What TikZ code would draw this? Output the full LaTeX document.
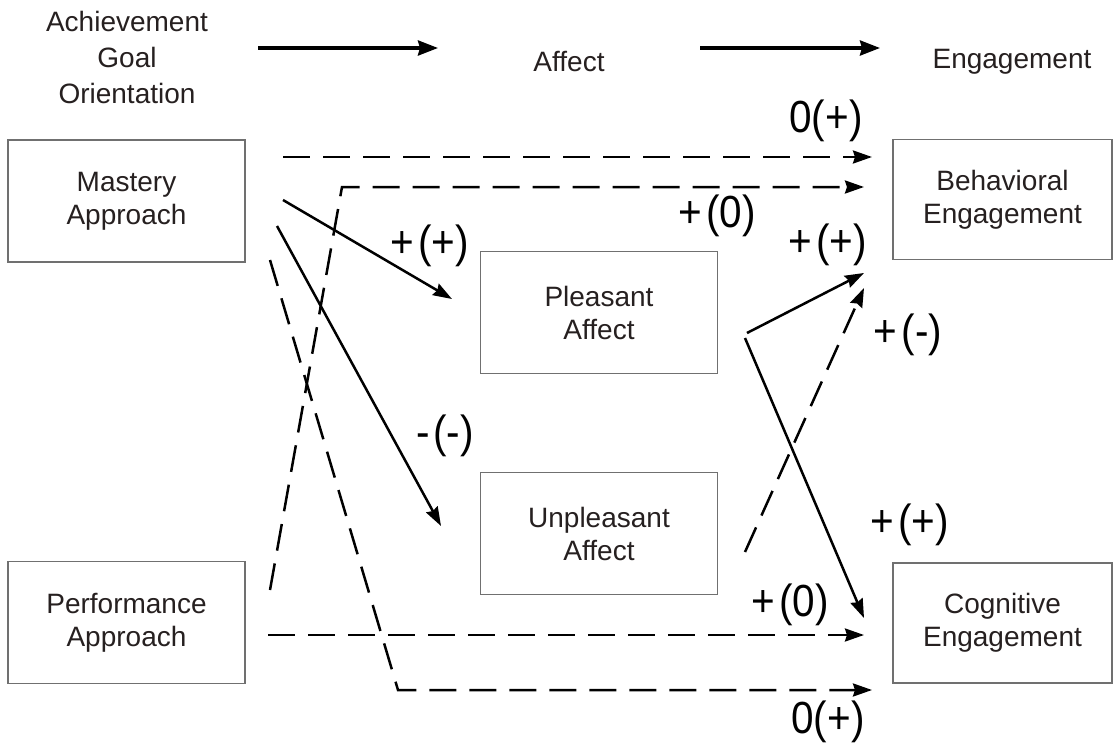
\documentclass[tikz,border=0pt]{standalone}
\usepackage{fontspec}
\setmainfont{Liberation Sans}
\newfontfamily\labfont[FakeStretch=0.9]{Liberation Sans}
\usetikzlibrary{arrows.meta}
\definecolor{boxline}{HTML}{707070}
\definecolor{txt}{HTML}{262020}
\newcommand{\lbl}[2]{#1\kern4pt(#2)}
\begin{document}
\begin{tikzpicture}[x=1pt,y=-1pt,
  box/.style={draw=boxline,line width=1.5pt,minimum width=237pt,minimum height=122pt,inner sep=0pt,align=center,font=\fontsize{28}{33}\selectfont,text=txt},
  ebox/.style={box,minimum width=219pt,minimum height=120pt},
  head/.style={align=center,font=\fontsize{28}{36}\selectfont,text=txt},
  lab/.style={font=\labfont\fontsize{45}{48}\selectfont,inner sep=0pt},
  conn/.style={line width=2.5pt,-{Stealth[length=19pt,width=13pt,inset=2pt]}},
  dconn/.style={conn,dash pattern=on 27pt off 13pt},
  harr/.style={line width=3.5pt,-{Stealth[length=20pt,width=15pt,inset=2pt]}}]
\useasboundingbox (0,0) rectangle (1120,744);
\fill[white] (0,0) rectangle (1120,744);
% headers
\node[head] (hgoal) at (127,57) {Achievement\\Goal\\Orientation};
\node[head] (haff) at (569,62) {Affect};
\node[head] (heng) at (1012,62) {Engagement};
\coordinate (a1s) at (258,48); \coordinate (a1e) at (438,48);
\coordinate (a2s) at (700,48); \coordinate (a2e) at (880,48);
\draw[harr] (a1s) -- (a1e);
\draw[harr] (a2s) -- (a2e);
% boxes
\node[box] (mast) at (126.5,201) {Mastery\\Approach};
\node[box] (perf) at (126.5,622.5) {Performance\\Approach};
\node[box] (pleas) at (599,312.5) {Pleasant\\Affect};
\node[box] (unpl) at (599,533.5) {Unpleasant\\Affect};
\node[ebox] (beh) at (1002.5,199.5) {Behavioral\\Engagement};
\node[ebox] (cog) at (1002.5,623) {Cognitive\\Engagement};
% connector end points
\coordinate (m1) at (283,157);  \coordinate (b1) at (872,157);
\coordinate (p1) at (270,590);  \coordinate (k1) at (342,187); \coordinate (b2) at (864,187);
\coordinate (m2) at (283,200);  \coordinate (pl1) at (452,299);
\coordinate (m3) at (277,226);  \coordinate (up1) at (441,526);
\coordinate (m4) at (270,260);  \coordinate (k2) at (398,690); \coordinate (c2) at (872,690);
\coordinate (p2) at (268,635);  \coordinate (c1) at (864,635);
\coordinate (pl2) at (747,333); \coordinate (b3) at (864,273);
\coordinate (up2) at (745,552); \coordinate (b4) at (864,288);
\coordinate (pl3) at (745,338); \coordinate (c3) at (864,618);
% connectors
\draw[dconn] (m1) -- (b1);
\draw[dconn] (p1) -- (k1) -- (b2);
\draw[conn] (m2) -- (pl1);
\draw[conn] (m3) -- (up1);
\draw[dconn] (m4) -- (k2) -- (c2);
\draw[dconn] (p2) -- (c1);
\draw[conn] (pl2) -- (b3);
\draw[dconn] (up2) -- (b4);
\draw[conn] (pl3) -- (c3);
% labels
\node[lab] (l1) at (826,121) {0(+)};
\node[lab] (l2) at (717,216) {\lbl{+}{0}};
\node[lab] (l3) at (430,246) {\lbl{+}{+}};
\node[lab] (l4) at (445,436) {\lbl{-}{-}};
\node[lab] (l5) at (828,245) {\lbl{+}{+}};
\node[lab] (l6) at (908,335) {\lbl{+}{-}};
\node[lab] (l7) at (910,525) {\lbl{+}{+}};
\node[lab] (l8) at (790,605) {\lbl{+}{0}};
\node[lab] (l9) at (828,722) {0(+)};
\end{tikzpicture}
\end{document}
